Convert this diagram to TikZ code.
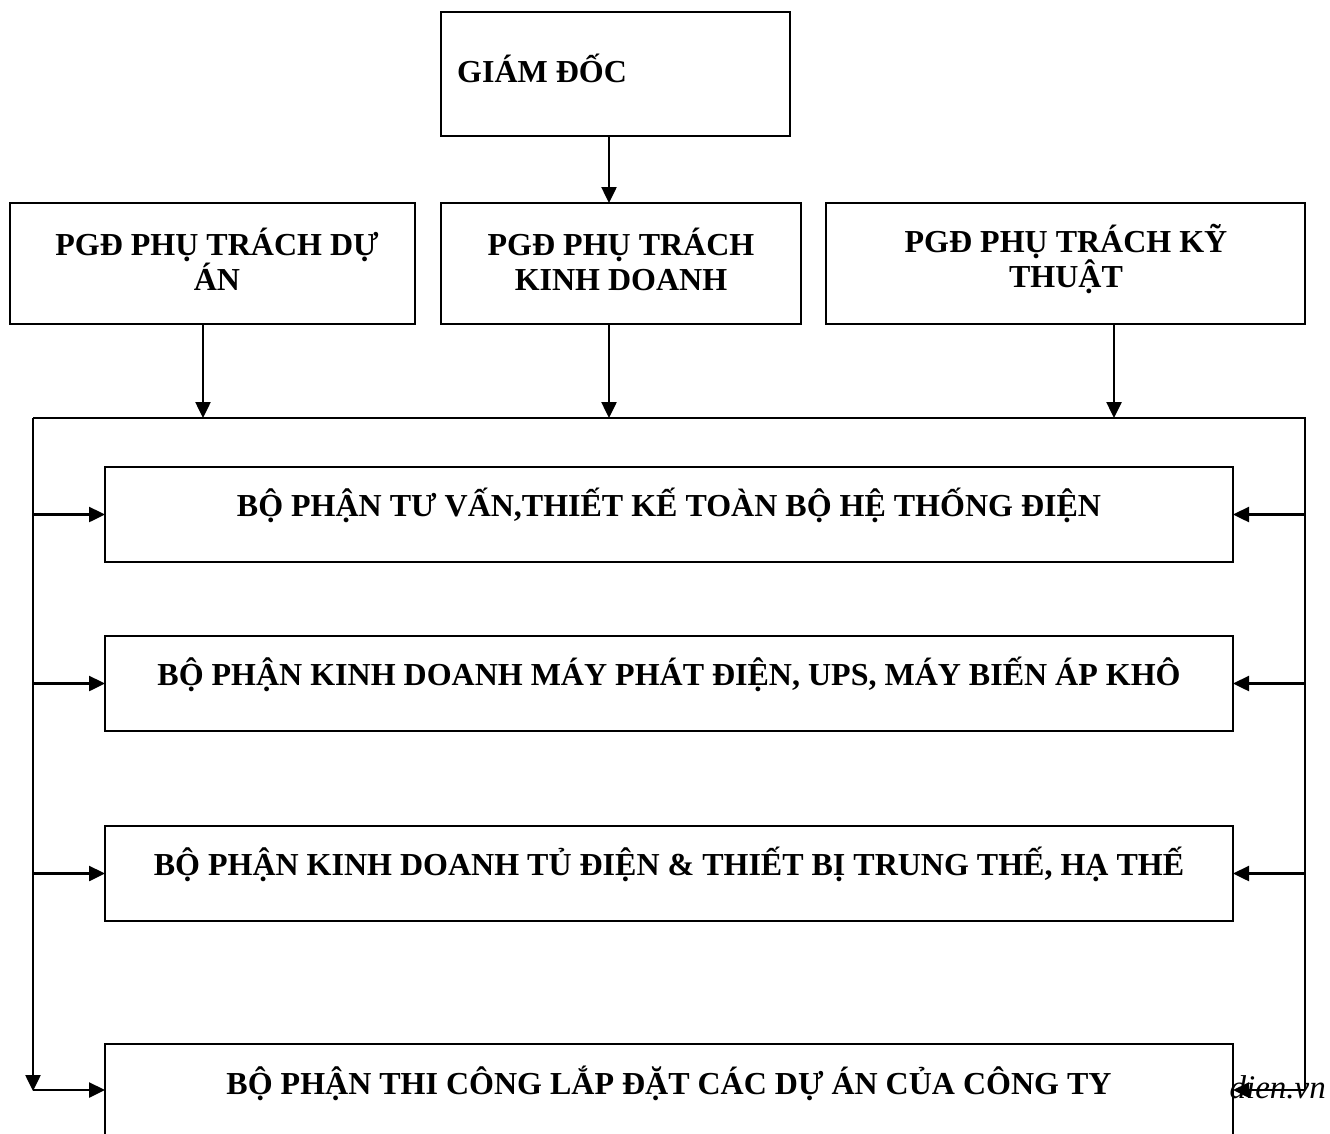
\documentclass[tikz,border=0pt]{standalone}
\usepackage{fontspec}
\setmainfont{Liberation Serif}
\usetikzlibrary{arrows.meta}
\begin{document}
\begin{tikzpicture}[x=1pt,y=-1pt,
 box/.style={draw,line width=2.5pt,inner sep=0pt,outer sep=0pt,anchor=north west},
 lbl/.style={font=\fontsize{32}{35}\selectfont\bfseries,align=center,inner sep=0pt},
 arr/.style={line width=2.5pt,-{Triangle[length=16pt,width=15pt]}},
 ln/.style={line width=2.5pt}]
\useasboundingbox (0,0) rectangle (1330,1133);
\clip (0,0) rectangle (1330,1133);
\fill[white] (0,0) rectangle (1330,1133);
% boxes
\node[box,minimum width=349pt,minimum height=124pt] (gd) at (441,12) {};
\node[box,minimum width=405pt,minimum height=121pt] (pa) at (10,203) {};
\node[box,minimum width=360pt,minimum height=121pt] (pk) at (441,203) {};
\node[box,minimum width=479pt,minimum height=121pt] (pt) at (826,203) {};
\node[box,minimum width=1128pt,minimum height=95pt] (b1) at (105,467) {};
\node[box,minimum width=1128pt,minimum height=95pt] (b2) at (105,636) {};
\node[box,minimum width=1128pt,minimum height=95pt] (b3) at (105,826) {};
\node[box,minimum width=1128pt,minimum height=92pt] (b4) at (105,1044) {};
% labels
\node[lbl,anchor=base west] (tgd) at (457,82) {GIÁM ĐỐC};
\node[lbl] (tpa) at (217,259) {PGĐ PHỤ TRÁCH DỰ\\ÁN};
\node[lbl] (tpk) at (621,259) {PGĐ PHỤ TRÁCH\\KINH DOANH};
\node[lbl] (tpt) at (1066,259) {PGĐ PHỤ TRÁCH KỸ\\THUẬT};
\node[lbl] (t1) at (669,505) {BỘ PHẬN TƯ VẤN,THIẾT KẾ TOÀN BỘ HỆ THỐNG ĐIỆN};
\node[lbl] (t2) at (669,674) {BỘ PHẬN KINH DOANH MÁY PHÁT ĐIỆN, UPS, MÁY BIẾN ÁP KHÔ};
\node[lbl] (t3) at (669,864) {BỘ PHẬN KINH DOANH TỦ ĐIỆN \& THIẾT BỊ TRUNG THẾ, HẠ THẾ};
\node[lbl] (t4) at (669,1083) {BỘ PHẬN THI CÔNG LẮP ĐẶT CÁC DỰ ÁN CỦA CÔNG TY};
\node[font=\fontsize{33}{38}\selectfont\itshape,inner sep=0pt,anchor=base east] (wm) at (1326,1098) {dien.vn};
% bus
\coordinate (tl) at (33,418);
\coordinate (tr) at (1305,418);
\coordinate (bl) at (33,1091);
\coordinate (br) at (1305,1090);
\draw[ln] (tl) -- (tr) -- (br);
\draw[arr] (tl) -- (bl);
% top arrows
\draw[arr] ([xshift=-6.5pt]gd.south) -- ([xshift=-6.5pt]gd.south |- pk.north);
\draw[arr] ([xshift=-9.5pt]pa.south) -- ([xshift=-9.5pt]pa.south |- tl);
\draw[arr] ([xshift=-12pt]pk.south) -- ([xshift=-12pt]pk.south |- tl);
\draw[arr] ([xshift=48.5pt]pt.south) -- ([xshift=48.5pt]pt.south |- tl);
% side arrows
\foreach \b in {b1,b2,b3,b4}{
  \draw[arr] (tl |- \b.west) -- (\b.west);
  \draw[arr] (tr |- \b.east) -- (\b.east);
}
\end{tikzpicture}
\end{document}
